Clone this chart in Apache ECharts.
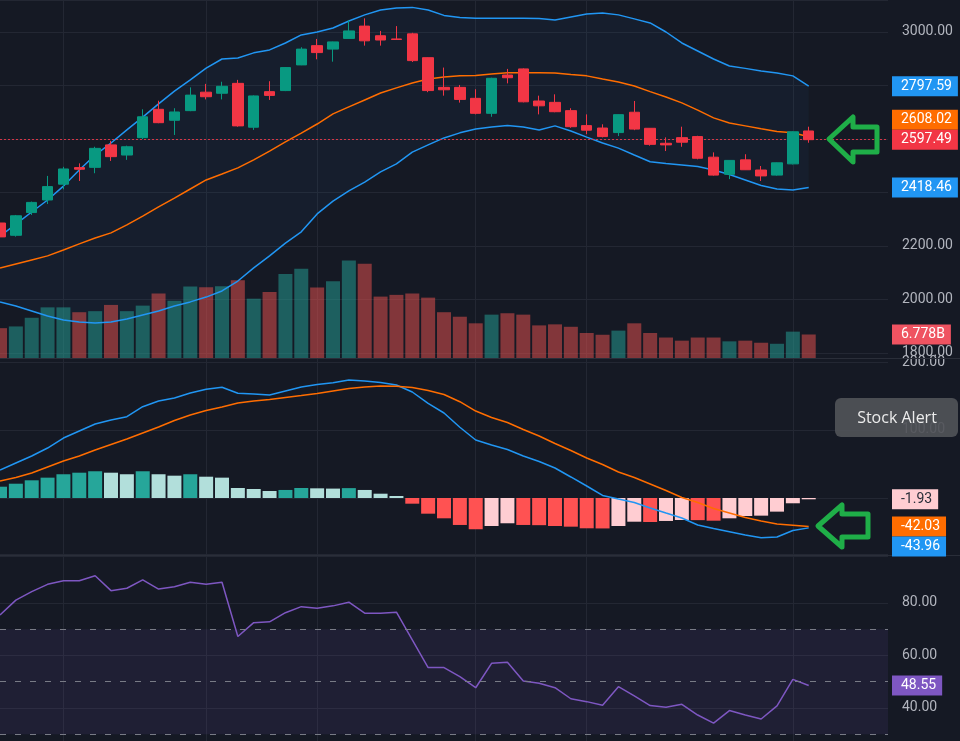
<!DOCTYPE html>
<html lang="en">
<head>
    <meta charset="UTF-8">
    <title>Candles with Bollinger, MACD and RSI</title>
    <style>
        html, body { margin: 0; padding: 0; background: #151924; }
        #main { width: 960px; height: 741px; }
    </style>
    <script src="https://cdn.jsdelivr.net/npm/echarts@6/dist/echarts.min.js"></script>
</head>
<body>
<div id="main"></div>
<script type="text/javascript">
    // daily bars: [open, close, low, high]
    var candles = [
        [2286, 2234, 2230, 2297], [2240, 2313, 2235, 2316], [2325, 2363, 2316, 2366], [2372, 2422, 2357, 2462],
        [2431, 2488, 2412, 2496], [2493, 2487, 2443, 2509], [2494, 2565, 2472, 2571], [2578, 2534, 2518, 2593],
        [2540, 2571, 2522, 2575], [2605, 2683, 2600, 2711], [2711, 2661, 2659, 2743], [2670, 2701, 2615, 2715],
        [2706, 2764, 2704, 2793], [2775, 2758, 2748, 2806], [2771, 2797, 2748, 2814], [2808, 2649, 2646, 2821],
        [2644, 2761, 2634, 2763], [2777, 2763, 2746, 2816], [2781, 2867, 2779, 2869], [2877, 2936, 2876, 2943],
        [2949, 2923, 2898, 2974], [2936, 2963, 2889, 2964], [2976, 3004, 2975, 3045], [3022, 2967, 2949, 3051],
        [2986, 2970, 2949, 3004], [2974, 2972, 2971, 3022], [2993, 2893, 2888, 2997], [2904, 2781, 2775, 2905],
        [2793, 2784, 2762, 2867], [2793, 2748, 2736, 2802], [2752, 2696, 2692, 2786], [2696, 2827, 2683, 2829],
        [2839, 2829, 2808, 2862], [2862, 2739, 2737, 2864], [2742, 2724, 2692, 2762], [2737, 2702, 2700, 2767],
        [2706, 2646, 2642, 2715], [2650, 2633, 2618, 2692], [2641, 2609, 2606, 2655], [2624, 2691, 2611, 2692],
        [2700, 2637, 2633, 2742], [2640, 2580, 2575, 2641], [2584, 2578, 2555, 2606], [2605, 2588, 2571, 2646],
        [2609, 2528, 2524, 2612], [2532, 2465, 2463, 2550], [2468, 2520, 2450, 2521], [2522, 2485, 2484, 2543],
        [2484, 2462, 2443, 2499], [2465, 2511, 2463, 2512], [2507, 2627, 2505, 2629], [2630, 2597.49, 2586, 2646]
    ];
    // volume, billions
    var volume = [8.6, 9.1, 11.6, 14.6, 14.6, 13.2, 13.5, 15.3, 13.5, 15.1, 18.6, 16.5, 20.6, 20.4, 20.7, 22.4,
        17.1, 19.0, 24.2, 25.7, 20.3, 22.1, 28.1, 27.2, 17.7, 18.2, 18.6, 17.4, 13.2, 11.9, 10.0, 12.5, 12.9, 12.5,
        9.4, 9.7, 9.0, 7.2, 6.7, 7.9, 10.0, 7.2, 5.9, 5.0, 5.9, 5.9, 4.8, 5.0, 4.4, 4.1, 7.6, 6.778];
    var bbUpper = [2237, 2282, 2327, 2372, 2424, 2484, 2540, 2585, 2634, 2682, 2731, 2779, 2821, 2865, 2899, 2903,
        2922, 2933, 2959, 2989, 3000, 3015, 3041, 3064, 3082, 3090, 3092, 3082, 3062, 3054, 3051, 3051, 3051, 3051,
        3050, 3045, 3056, 3067, 3071, 3064, 3049, 3034, 3000, 2959, 2929, 2899, 2873, 2864, 2854, 2847, 2836, 2797.59];
    var bbBasis = [2118, 2133, 2148, 2163, 2185, 2208, 2230, 2249, 2279, 2312, 2346, 2379, 2413, 2447, 2469, 2492,
        2522, 2555, 2589, 2622, 2656, 2694, 2720, 2746, 2772, 2791, 2809, 2824, 2832, 2836, 2837, 2843, 2848, 2848,
        2848, 2847, 2841, 2836, 2824, 2813, 2798, 2777, 2757, 2735, 2708, 2679, 2660, 2649, 2638, 2628, 2623, 2608.02];
    var bbLower = [1991, 1976, 1957, 1938, 1923, 1916, 1912, 1916, 1927, 1942, 1957, 1976, 1991, 2009, 2032, 2069,
        2118, 2163, 2211, 2253, 2320, 2368, 2406, 2439, 2477, 2507, 2551, 2578, 2604, 2623, 2637, 2645, 2650, 2645,
        2634, 2649, 2630, 2607, 2585, 2566, 2540, 2515, 2508, 2503, 2497, 2484, 2467, 2447, 2426, 2413, 2409, 2418.46];
    var macdLine = [41.2, 51.5, 61.8, 73.5, 88.2, 98.5, 108.8, 114.7, 119.6, 134.3, 142.6, 147, 154.4, 159.9, 162.8,
        154, 152.9, 151.5, 157.4, 163.2, 166.9, 169.6, 173.5, 172, 169.9, 166.2, 155.9, 139, 125, 104, 85.3, 77.9,
        71.3, 61.8, 53.7, 44.1, 30.9, 17.6, 3.7, -1.5, -6.6, -14.7, -22.1, -29.4, -39.7, -44.9, -49.6, -54.4, -58.4,
        -57.4, -47.8, -43.96];
    var signalLine = [25, 30.1, 36.8, 45.6, 54.4, 61.8, 70.6, 78.7, 86.8, 95.6, 104.4, 114, 122.1, 128.7, 133.8,
        139.7, 142.6, 144.9, 147.8, 150.7, 153.7, 157.4, 161, 163.2, 164.7, 164.4, 162.5, 158, 152.2, 141.6, 127.9,
        118.4, 111, 100.7, 91.2, 80.1, 69.9, 58.8, 49.3, 38.2, 30.1, 20.6, 11, 0.7, -6.6, -15.4, -22.1, -28.7, -33.8,
        -38.2, -40.1, -42.03];
    var macdHist = [16.6, 21.0, 26.0, 29.9, 34.9, 37.2, 39.3, 37.2, 34.9, 39.3, 34.9, 32.8, 34.9, 31.3, 29.9, 14.7,
        13.2, 10.3, 11.8, 14.7, 14.2, 13.8, 14.5, 11.8, 6.3, 2.9, -8.4, -23.1, -29.9, -39.7, -46.0, -41.2, -37.2,
        -39.7, -40.0, -41.2, -42.2, -44.6, -44.8, -41.2, -34.9, -35.3, -33.8, -32.4, -32.6, -33.4, -29.9, -26.5,
        -26.0, -20.1, -7.8, -1.93];
    var rsi = [75.4, 81.1, 84.3, 87.1, 88.5, 88.5, 90.4, 84.7, 85.6, 88.8, 85.3, 86.2, 87.9, 87.1, 87.9, 67.2, 72.5,
        72.8, 76.3, 78.6, 78, 78.9, 80.3, 76.1, 76.1, 76.5, 65.9, 55.4, 55.4, 51.9, 47.7, 57, 57.4, 50.3, 49.4, 47.7,
        43.5, 42.4, 41, 48.1, 44.6, 40.9, 40.3, 41.4, 37.3, 34.2, 39, 37.3, 35.8, 40.8, 50.9, 48.55];
    var rsiLevels = [70, 50, 30];
    var rsiBand = [30, 70];
    // bars where the time scale draws a vertical grid line
    var timeGrid = [4, 13, 20, 30, 37, 50];
    var slotCount = 57; // 52 bars plus empty room on the right

    var slots = [];
    for (var i = 0; i < slotCount; i++) slots.push(i);

    var gridColor = '#232733', labelColor = '#b2b5be';
    var up = '#089981', down = '#f23645';
    var last = candles.length - 1;

    // colour the volume like its candle
    var volData = volume.map(function (v, i) {
        var c = candles[i];
        return {value: v, itemStyle: {color: c[1] >= c[0] ? 'rgba(38,166,154,0.5)' : 'rgba(239,83,80,0.5)'}};
    });
    // histogram: strong colour when growing away from zero, pale when shrinking
    var histData = macdHist.map(function (v, i) {
        var prev = i > 0 ? macdHist[i - 1] : v;
        var col;
        if (v >= 0) col = v >= prev ? '#26a69a' : '#b2dfdb';
        else col = v < prev ? '#ff5252' : '#ffcdd2';
        return {value: v, itemStyle: {color: col}};
    });
    var bandWidth = bbUpper.map(function (v, i) { return v - bbLower[i]; });

    function xAx(idx) {
        return {
            type: 'category', gridIndex: idx, data: slots, boundaryGap: false,
            axisLine: {show: false}, axisTick: {show: false}, axisLabel: {show: false},
            splitLine: {
                show: true,
                interval: function (i) { return timeGrid.indexOf(i) >= 0; },
                lineStyle: {color: gridColor}
            }
        };
    }
    function yAx(idx, min, max, step) {
        return {
            type: 'value', gridIndex: idx, position: 'right', min: min, max: max,
            minInterval: step, maxInterval: step,
            axisLine: {show: false}, axisTick: {show: false},
            axisLabel: {
                color: labelColor, fontSize: 14, fontFamily: 'Roboto', margin: 14,
                showMinLabel: false, showMaxLabel: false,
                formatter: function (v) { return v.toFixed(2); }
            },
            splitLine: {show: true, lineStyle: {color: gridColor}}
        };
    }
    function line(name, data, color, xi, yi) {
        return {
            name: name, type: 'line', data: data, xAxisIndex: xi, yAxisIndex: yi,
            showSymbol: false, symbol: 'none', z: 3,
            lineStyle: {color: color, width: 1.5}
        };
    }

    var myChart = echarts.init(document.getElementById('main'));
    var option = {
        backgroundColor: '#151924',
        animation: false,
        grid: [
            {left: 0, right: 72, top: 0, height: 358, outerBoundsMode: 'none', containLabel: false},
            {left: 0, right: 72, top: 358, height: 196, outerBoundsMode: 'none', containLabel: false},
            {left: 0, right: 72, top: 556, height: 185, outerBoundsMode: 'none', containLabel: false}
        ],
        xAxis: [xAx(0), xAx(1), xAx(2)],
        yAxis: [
            yAx(0, 1781.3, 3119.6, 200),
            {type: 'value', gridIndex: 0, min: 0, max: 103.2, show: false, splitLine: {show: false}},
            yAx(1, -82.4, 205.9, 100),
            yAx(2, 27.4, 97.9, 20)
        ],
        series: [
            {
                name: 'Volume', type: 'bar', data: volData, xAxisIndex: 0, yAxisIndex: 1,
                barWidth: 14, z: 1
            },
            {
                name: 'bbBase', type: 'line', stack: 'bb', data: bbLower, xAxisIndex: 0, yAxisIndex: 0,
                showSymbol: false, symbol: 'none', lineStyle: {opacity: 0}, z: 1
            },
            {
                name: 'bbFill', type: 'line', stack: 'bb', data: bandWidth, xAxisIndex: 0, yAxisIndex: 0,
                showSymbol: false, symbol: 'none', lineStyle: {opacity: 0}, z: 1,
                areaStyle: {color: 'rgba(33,150,243,0.065)'}
            },
            line('Upper', bbUpper, '#2196f3', 0, 0),
            line('Basis', bbBasis, '#ff6d00', 0, 0),
            line('Lower', bbLower, '#2196f3', 0, 0),
            {
                name: 'Price', type: 'candlestick', data: candles, xAxisIndex: 0, yAxisIndex: 0,
                barWidth: 11, z: 5,
                itemStyle: {color: up, color0: down, borderColor: up, borderColor0: down},
                markLine: {
                    silent: true, symbol: ['none', 'none'], label: {show: false},
                    lineStyle: {color: '#e8394a', type: [2, 2], width: 1.2, opacity: 0.9},
                    data: [{yAxis: candles[last][1]}]
                }
            },
            {
                name: 'Histogram', type: 'bar', data: histData, xAxisIndex: 1, yAxisIndex: 2,
                barWidth: 14, z: 2
            },
            line('MACD', macdLine, '#2196f3', 1, 2),
            line('Signal', signalLine, '#ff6d00', 1, 2),
            {
                name: 'RSI', type: 'line', data: rsi, xAxisIndex: 2, yAxisIndex: 3,
                showSymbol: false, symbol: 'none', z: 3,
                lineStyle: {color: '#7e57c2', width: 1.5},
                markArea: {
                    silent: true,
                    itemStyle: {color: 'rgba(126,87,194,0.1)'},
                    data: [[{yAxis: rsiBand[0]}, {yAxis: rsiBand[1]}]]
                },
                markLine: {
                    silent: true, symbol: ['none', 'none'], label: {show: false},
                    lineStyle: {color: '#787b86', type: [6, 9], width: 1},
                    data: rsiLevels.map(function (v) { return {yAxis: v}; })
                }
            }
        ]
    };
    myChart.setOption(option);

    // value tags on the price scale
    var TAG_H = 20;
    function tag(yAxisIndex, v, text, bg, fg, fixed) {
        return {y: myChart.convertToPixel({yAxisIndex: yAxisIndex}, v), text: text, bg: bg, fg: fg, fixed: !!fixed};
    }
    function spread(list) {
        list.sort(function (a, b) { return a.y - b.y; });
        for (var i = 1; i < list.length; i++) {
            var a = list[i - 1], b = list[i];
            if (b.y - a.y < TAG_H) {
                if (b.fixed) a.y = b.y - TAG_H; else b.y = a.y + TAG_H;
            }
        }
        return list;
    }
    var mainTags = spread([
        tag(0, bbUpper[last], bbUpper[last].toFixed(2), '#2196f3', '#ffffff'),
        tag(0, bbBasis[last], bbBasis[last].toFixed(2), '#ff6d00', '#ffffff'),
        tag(0, candles[last][1], candles[last][1].toFixed(2), '#f23645', '#ffffff', true),
        tag(0, bbLower[last], bbLower[last].toFixed(2), '#2196f3', '#ffffff'),
        tag(1, volume[last], volume[last].toFixed(3) + 'B', '#ef5361', '#ffffff')
    ]);
    var macdTags = spread([
        tag(2, macdHist[last], macdHist[last].toFixed(2), '#ffcdd2', '#2a2e39', true),
        tag(2, signalLine[last], signalLine[last].toFixed(2), '#ff6d00', '#ffffff'),
        tag(2, macdLine[last], macdLine[last].toFixed(2), '#2196f3', '#ffffff')
    ]);
    var rsiTags = [tag(3, rsi[last], rsi[last].toFixed(2), '#7e57c2', '#ffffff')];

    var graphics = [
        {type: 'line', z: 90, shape: {x1: 0, y1: 358.5, x2: 960, y2: 358.5}, style: {stroke: '#2a2e39', lineWidth: 1}},
        {type: 'line', z: 90, shape: {x1: 0, y1: 555.5, x2: 960, y2: 555.5}, style: {stroke: '#2a2e39', lineWidth: 1}}
    ];
    mainTags.concat(macdTags, rsiTags).forEach(function (t) {
        graphics.push({
            type: 'text', x: 892, y: t.y, z: 100,
            style: {
                text: t.text, fill: t.fg, font: '14px Roboto', verticalAlign: 'middle',
                backgroundColor: t.bg, padding: [3, 6, 3, 9]
            }
        });
    });

    // hand-drawn arrow markers
    var arrowStyle = {fill: 'none', stroke: '#1fae48', lineWidth: 5, lineJoin: 'round'};
    graphics.push({
        type: 'polygon', z: 110, style: arrowStyle,
        shape: {points: [[829, 139], [853, 117], [853, 127], [877, 127], [877, 152], [853, 152], [853, 162]]}
    });
    graphics.push({
        type: 'polygon', z: 110, style: arrowStyle,
        shape: {points: [[818, 526], [842, 505], [842, 514], [868, 514], [868, 537], [842, 537], [842, 547]]}
    });

    // alert button
    graphics.push({
        type: 'rect', z: 105, shape: {x: 835, y: 398, width: 123, height: 39, r: 6},
        style: {fill: 'rgba(80,82,88,0.92)'}
    });
    graphics.push({
        type: 'text', z: 106, x: 897, y: 418,
        style: {text: 'Stock Alert', fill: '#ececec', font: '16px "Open Sans"', align: 'center', verticalAlign: 'middle'}
    });

    myChart.setOption({graphic: graphics});
</script>
</body>
</html>
